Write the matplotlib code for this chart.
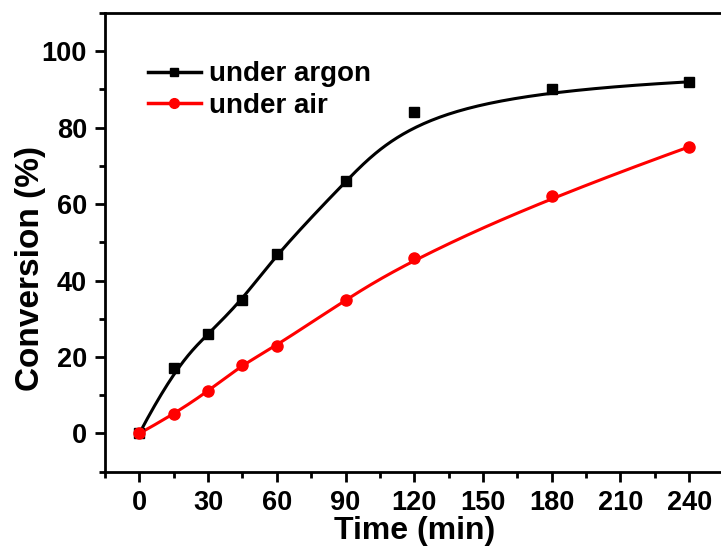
import numpy as np
import matplotlib.pyplot as plt
from matplotlib.ticker import MultipleLocator

# data
time_min = [0, 15, 30, 45, 60, 90, 120, 180, 240]
argon = [0, 17, 26, 35, 47, 66, 84, 90, 92]
air = [0, 5, 11, 18, 23, 35, 46, 62, 75]


def bspline(x, y, n=300, k=3):
    # clamped B-spline using the points as control points (Origin-style "B-spline" connect)
    P = np.column_stack([x, y]).astype(float)
    m = len(P)
    knots = np.concatenate([np.zeros(k), np.linspace(0, 1, m - k + 1), np.ones(k)])
    t = np.linspace(0, 1, n)
    t[-1] -= 1e-9
    N = np.zeros((n, len(knots) - 1))
    for i in range(len(knots) - 1):
        N[:, i] = (knots[i] <= t) & (t < knots[i + 1])
    for d in range(1, k + 1):
        Nn = np.zeros((n, len(knots) - 1 - d))
        for i in range(len(knots) - 1 - d):
            a = knots[i + d] - knots[i]
            b = knots[i + d + 1] - knots[i + 1]
            left = (t - knots[i]) / a * N[:, i] if a > 0 else 0
            right = (knots[i + d + 1] - t) / b * N[:, i + 1] if b > 0 else 0
            Nn[:, i] = left + right
        N = Nn
    C = N @ P
    return C[:, 0], C[:, 1]


plt.rcParams['font.family'] = 'Liberation Sans'
plt.rcParams['font.weight'] = 'bold'

fig = plt.figure(figsize=(7.21, 5.52), dpi=100)
ax = fig.add_axes([0.1456, 0.1455, 0.858, 0.8309])

bx, by = bspline(time_min, argon)
rx, ry = bspline(time_min, air)
ax.plot(bx, by, color='black', lw=2.2)
ax.plot(rx, ry, color='red', lw=2.2)
ax.plot(time_min, argon, 's', color='black', ms=7.5)
ax.plot(time_min, air, 'o', color='red', ms=8)

# legend proxies
ax.plot([], [], '-s', color='black', lw=2.5, ms=5.5, label='under argon')
ax.plot([], [], '-o', color='red', lw=2.5, ms=7, label='under air')
fig.legend(loc='upper left', bbox_to_anchor=(0.19, 0.909), frameon=False,
           borderaxespad=0, fontsize=20, handlelength=1.9, handletextpad=0.3,
           labelspacing=0.2)

ax.set_xlim(-15, 255)
ax.set_ylim(-10, 110)
ax.xaxis.set_major_locator(MultipleLocator(30))
ax.xaxis.set_minor_locator(MultipleLocator(15))
ax.set_yticks([0, 20, 40, 60, 80, 100])
ax.yaxis.set_minor_locator(MultipleLocator(10))
ax.tick_params(which='major', direction='out', length=7, width=2, labelsize=19.5, pad=6)
ax.tick_params(which='minor', direction='out', length=4, width=2)
for s in ax.spines.values():
    s.set_linewidth(2)

ax.set_xlabel('Time (min)', fontsize=23, fontweight='bold', labelpad=0)
ax.set_ylabel('Conversion (%)', fontsize=24, fontweight='bold', va='center')
ax.yaxis.set_label_coords(-0.121, 0.442)

fig.savefig('out.png', dpi=100)
